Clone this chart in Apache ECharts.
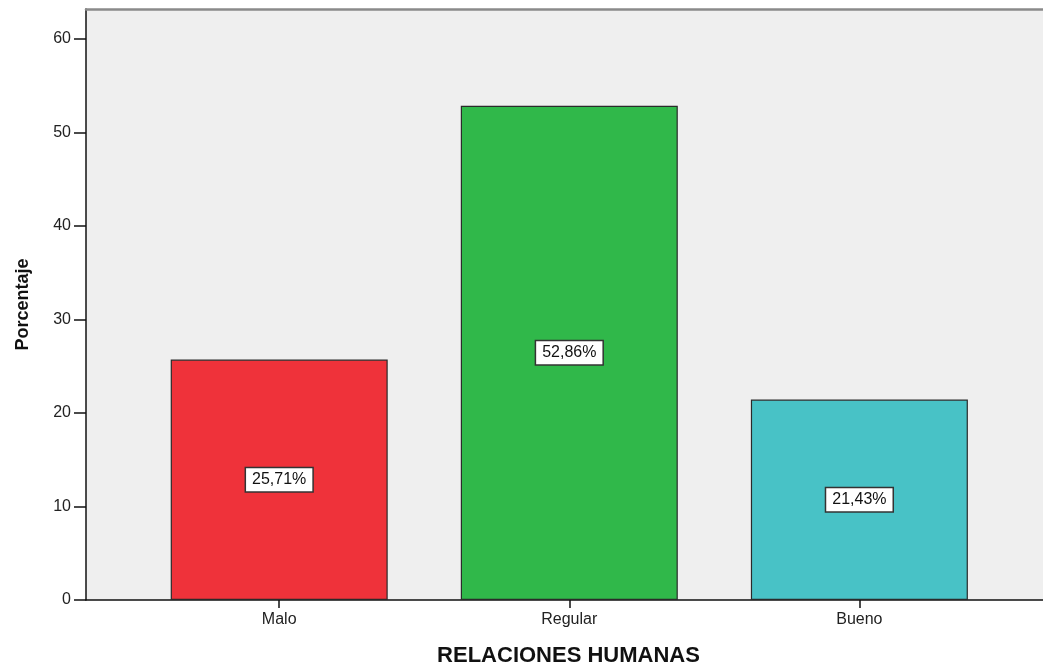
<!DOCTYPE html>
<html>
<head>
<meta charset="utf-8">
<script src="https://cdn.jsdelivr.net/npm/echarts@6/dist/echarts.min.js"></script>
<style>
  html, body { margin: 0; padding: 0; background: #ffffff; }
  #chart { width: 1043px; height: 663px; }
</style>
</head>
<body>
<div id="chart"></div>
<script>
// Categories and percentages
const categories = ['Malo', 'Regular', 'Bueno'];
const percentages = [25.71, 52.86, 21.43];
const barColors = ['#ef323a', '#30b84a', '#48c2c6'];
const yTicks = [0, 10, 20, 30, 40, 50, 60];

// Category positions on a numeric x scale (1, 2, 3) so the plot can pad both sides
const positions = categories.map((_, i) => i + 1);

const chart = echarts.init(document.getElementById('chart'));

const fmt = v => v.toFixed(2).replace('.', ',') + '%';

chart.setOption({
  animation: false,
  textStyle: { fontFamily: 'Liberation Sans, Arial, sans-serif' },
  grid: {
    left: 86, right: 0, top: 9, bottom: 63,
    outerBoundsMode: 'none',
    containLabel: false,
    show: true, backgroundColor: '#efefef', borderWidth: 0
  },
  xAxis: [{
    type: 'value',
    min: 0.334,
    max: 3.633,
    splitLine: { show: false },
    axisLine: { show: true, lineStyle: { color: '#111', width: 1.5 } },
    axisTick: { show: true, customValues: positions, length: 8, lineStyle: { color: '#111', width: 1.5 } },
    axisLabel: {
      customValues: positions,
      formatter: v => categories[Math.round(v) - 1] || '',
      color: '#222', fontSize: 16, margin: 12
    },
    name: 'RELACIONES HUMANAS',
    nameLocation: 'middle',
    nameGap: 45,
    nameTextStyle: { fontSize: 22, fontWeight: 'bold', color: '#111', padding: [0, 0, 0, 8] }
  }, {
    type: 'value',
    position: 'top',
    min: 0.334,
    max: 3.633,
    splitLine: { show: false },
    axisLine: { show: true, lineStyle: { color: '#8a8a8a', width: 2.5 } },
    axisTick: { show: false },
    axisLabel: { show: false }
  }],
  yAxis: {
    type: 'value',
    min: 0,
    max: 63.2,
    interval: 10,
    splitLine: { show: false },
    axisLine: { show: true, lineStyle: { color: '#111', width: 1.5 } },
    axisTick: { show: true, length: 12, customValues: yTicks, lineStyle: { color: '#111', width: 1.5 } },
    axisLabel: { customValues: yTicks, color: '#222', fontSize: 16, margin: 15 },
    name: 'Porcentaje',
    nameLocation: 'middle',
    nameGap: 54,
    nameTextStyle: { fontSize: 18, fontWeight: 'bold', color: '#111' }
  },
  series: [{
    type: 'bar',
    barWidth: 217,
    data: percentages.map((v, i) => ({
      value: [positions[i], v],
      itemStyle: { color: barColors[i] }
    })),
    itemStyle: { borderColor: '#2a2a2a', borderWidth: 1.2 },
    label: {
      show: true,
      position: 'inside',
      formatter: p => fmt(p.value[1]),
      color: '#111',
      fontSize: 16,
      backgroundColor: '#ffffff',
      borderColor: '#333',
      borderWidth: 1.5,
      padding: [4, 6, 3, 6]
    }
  }]
});
</script>
</body>
</html>
